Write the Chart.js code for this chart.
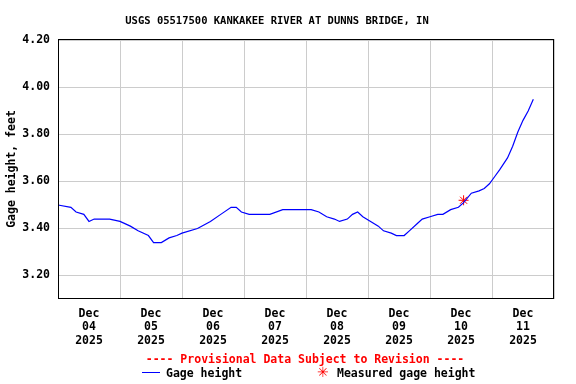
<!DOCTYPE html>
<html lang="en">
<head>
<meta charset="UTF-8">
<title>USGS 05517500 Kankakee River at Dunns Bridge, IN</title>
<style>
  body { margin: 0; background: #fff; }
  .wrap {
    position: relative;
    width: 576px;
    height: 384px;
    font-family: "DejaVu Sans Mono", monospace;
    font-weight: bold;
    color: #000;
  }
  canvas { position: absolute; left: 0; top: 0; }
  .title {
    position: absolute; left: -11px; top: 13px; width: 576px;
    text-align: center; font-size: 10.5px; line-height: 14px;
  }
  .note {
    position: absolute; left: 17px; top: 352px; width: 576px;
    text-align: center; font-size: 11.5px; line-height: 14px; color: #f00;
  }
  .leg { position: absolute; top: 366px; font-size: 11.5px; line-height: 14px; white-space: nowrap; }
  .swatch { position: absolute; left: 142px; top: 372px; width: 18px; border-top: 1px solid #00f; }
  .star { position: absolute; top: 364px; left: 317px; font-size: 14px; line-height: 16px; color: #f00; font-family: "DejaVu Sans", sans-serif; }
</style>
</head>
<body>
<div class="wrap">
  <canvas id="gage" width="576" height="384"></canvas>
  <div class="title">USGS 05517500 KANKAKEE RIVER AT DUNNS BRIDGE, IN</div>
  <div class="note">---- Provisional Data Subject to Revision ----</div>
  <div class="swatch"></div>
  <div class="leg" style="left:166px">Gage height</div>
  <div class="star">✳</div>
  <div class="leg" style="left:337px">Measured gage height</div>
</div>

<script src="https://cdn.jsdelivr.net/npm/chart.js"></script>
<script>
  // hours since Dec 04 2025 00:00
  const hours = [0, 5, 7, 10, 12, 14, 20, 24, 28, 31, 35, 37, 40, 43, 46, 48, 54, 59, 63, 67,
    69, 71, 74, 79, 82, 87, 95, 98, 101, 104, 107, 109, 112, 114, 116, 118, 121, 124, 126, 129,
    131, 134, 136, 139, 141, 144, 147, 149, 152, 155, 157, 160, 163, 165, 167, 169, 171, 174, 176, 178, 180,
    182, 184];
  const gage = [3.50, 3.49, 3.47, 3.46, 3.43, 3.44, 3.44, 3.43, 3.41, 3.39, 3.37, 3.34, 3.34, 3.36, 3.37, 3.38, 3.40, 3.43, 3.46, 3.49,
    3.49, 3.47, 3.46, 3.46, 3.46, 3.48, 3.48, 3.48, 3.47, 3.45, 3.44, 3.43, 3.44, 3.46, 3.47, 3.45, 3.43, 3.41, 3.39, 3.38,
    3.37, 3.37, 3.39, 3.42, 3.44, 3.45, 3.46, 3.46, 3.48, 3.49, 3.51, 3.55, 3.56, 3.57, 3.59, 3.62, 3.65, 3.70, 3.75, 3.81, 3.86,
    3.90, 3.95];

  const measuredHours = [157];
  const measuredGage = [3.52];

  const dayLabels = ['04', '05', '06', '07', '08', '09', '10', '11'];
  const yTicks = [3.20, 3.40, 3.60, 3.80, 4.00, 4.20];

  const tickFont = { family: '"DejaVu Sans Mono", monospace', size: 11.5, weight: 'bold' };

  // frame round the plot area
  const framePlugin = {
    id: 'frame',
    afterDraw(chart) {
      const { ctx, chartArea: a } = chart;
      ctx.save();
      ctx.strokeStyle = '#000';
      ctx.lineWidth = 1;
      ctx.strokeRect(Math.round(a.left) + 0.5, Math.round(a.top) + 0.5,
        Math.round(a.right - a.left) - 1, Math.round(a.bottom - a.top) - 1);
      ctx.restore();
    }
  };

  new Chart(document.getElementById('gage'), {
    type: 'line',
    data: {
      datasets: [{
        label: 'Gage height',
        data: hours.map((h, i) => ({ x: h, y: gage[i] })),
        borderColor: '#0000ff',
        borderWidth: 1.2,
        pointRadius: 0,
        tension: 0,
        fill: false
      }, {
        type: 'scatter',
        label: 'Measured gage height',
        data: measuredHours.map((h, i) => ({ x: h, y: measuredGage[i] })),
        pointStyle: 'star',
        pointRadius: 5,
        borderColor: '#ff0000',
        backgroundColor: '#ff0000',
        borderWidth: 1
      }]
    },
    options: {
      responsive: false,
      animation: false,
      devicePixelRatio: 1,
      layout: { padding: { top: 39, right: 22, left: 0, bottom: 0 } },
      plugins: {
        legend: { display: false },
        tooltip: { enabled: false },
        title: { display: false }
      },
      scales: {
        x: {
          type: 'linear',
          min: 0,
          max: 192,
          afterFit(scale) { scale.height = 85; },
          afterBuildTicks(scale) {
            const t = [];
            for (let v = 0; v <= 192; v += 12) t.push({ value: v });
            scale.ticks = t;
          },
          grid: {
            drawTicks: false,
            color: ctx => (ctx.tick && ctx.tick.value % 24 === 0) ? '#cccccc' : 'rgba(0,0,0,0)'
          },
          border: { display: false },
          ticks: {
            autoSkip: false,
            maxRotation: 0,
            padding: 8,
            color: '#000',
            font: Object.assign({ lineHeight: 1.18 }, tickFont),
            callback: v => (v % 24 === 12) ? ['Dec', dayLabels[Math.floor(v / 24)], '2025'] : ''
          }
        },
        y: {
          min: 3.10,
          max: 4.206,
          afterFit(scale) { scale.width = 58; },
          afterBuildTicks(scale) { scale.ticks = yTicks.map(v => ({ value: v })); },
          grid: { drawTicks: false, color: '#cccccc' },
          border: { display: false },
          ticks: {
            padding: 8,
            color: '#000',
            font: tickFont,
            callback: v => v.toFixed(2)
          },
          title: {
            display: true,
            text: 'Gage height, feet',
            color: '#000',
            font: tickFont,
            padding: { top: 5, bottom: 0 }
          }
        }
      }
    },
    plugins: [framePlugin]
  });
</script>
</body>
</html>
